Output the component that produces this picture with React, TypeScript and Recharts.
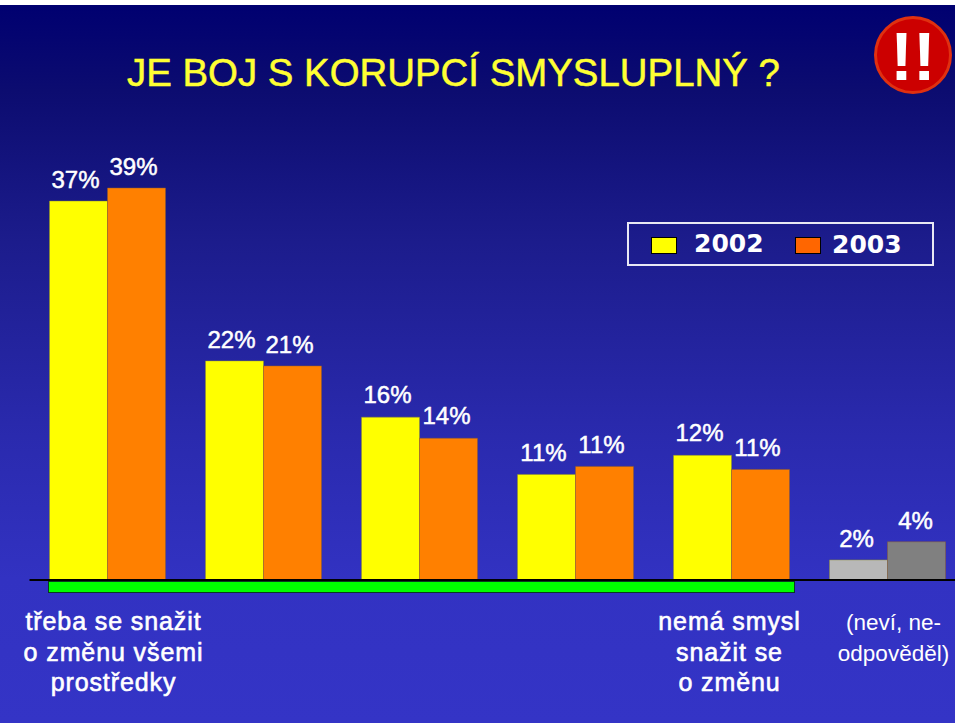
import { BarChart, Bar, XAxis, YAxis, Cell, LabelList, Legend } from 'recharts'

const categories = ['třeba se snažit|o změnu všemi|prostředky', 'b', 'c', 'd', 'nemá smysl|snažit se|o změnu', '(neví, ne-|odpověděl)']
const values2002 = [37.7, 21.8, 16.2, 10.5, 12.4, 2.0]
const values2003 = [39, 21.3, 14.1, 11.3, 11.0, 3.8]
const labels2002 = ['37%', '22%', '16%', '11%', '12%', '2%']
const labels2003 = ['39%', '21%', '14%', '11%', '11%', '4%']

// hand nudges for the data labels, the source slide has them placed by hand
const nudge2002 = [[-3, 0], [-3, 0], [-3, -1], [-3, 0], [-3, -1], [-2, 0]]
const nudge2003 = [[-3, 0], [-3, 0], [-2, -1], [-3, 0], [-3, 0], [-1, 0]]
const GREY_2002 = '#b8b8b8'
const GREY_2003 = '#808080'

const chartData = categories.map((name, i) => ({ name, y2002: values2002[i], y2003: values2003[i] }))
const FONT = '"Liberation Sans", Arial, sans-serif'

const makeLabel = (labels: string[], nudges: number[][]) => (props: any) => {
  const { x, y, width, index } = props
  const [dx, dy] = nudges[index]
  return (
    <text x={x + width / 2 + dx} y={y - 13 + dy} fill="#fff" fontFamily={FONT} fontSize={24} fontWeight={400} stroke="#fff" strokeWidth={0.5} textAnchor="middle">
      {labels[index]}
    </text>
  )
}

const CategoryTick = ({ x, y, payload, index }: any) => {
  if (index > 0 && index < 4) return null
  const lines = payload.value.split('|')
  const bold = index < 5
  const shift = index === 0 ? 6 : index === 4 ? -2 : 6
  return (
    <text x={x + shift} y={y + 42} fill="#fff" fontFamily={FONT} fontSize={bold ? 25 : 22.5} fontWeight={400} stroke="#fff" strokeWidth={bold ? 0.6 : 0} textAnchor="middle" letterSpacing={bold ? 0.9 : 0}>
      {lines.map((l: string, i: number) => (
        <tspan key={i} x={x + shift} dy={i === 0 ? 0 : 30.5}>{l}</tspan>
      ))}
    </text>
  )
}

const LegendBox = () => (
  <div style={{ width: 303, height: 40, border: '2px solid #e8e8f4', position: 'relative', color: '#fff', fontFamily: '"DejaVu Sans", sans-serif', fontWeight: 700, fontSize: 25 }}>
    <span style={{ position: 'absolute', left: 22, top: 13, width: 24, height: 15, background: '#ffff00', border: '1px solid #000' }} />
    <span style={{ position: 'absolute', left: 65, top: 5 }}>2002</span>
    <span style={{ position: 'absolute', left: 166, top: 13, width: 24, height: 15, background: '#ff6600', border: '1px solid #000' }} />
    <span style={{ position: 'absolute', left: 203, top: 6 }}>2003</span>
  </div>
)

export default function App() {
  return (
    <div style={{ position: 'absolute', left: 0, top: 0, width: 960, height: 723, background: '#fff', overflow: 'hidden' }}>
      <div style={{ position: 'absolute', left: 0, top: 5, width: 955, height: 718, overflow: 'hidden', background: 'linear-gradient(180deg, #000070 0%, #0c0c70 12%, #1c1c8c 33%, #2a2aae 60%, #3232c2 80%, #3434c6 100%)' }}>
        <div style={{ position: 'absolute', left: 48, top: 576, width: 745, height: 10, background: '#00ff00', border: '1px solid #0a3a20' }} />
        <div style={{ position: 'absolute', left: 0, top: -5 }}>
          <BarChart width={966} height={723} data={chartData} margin={{ top: 188, right: 0.5, bottom: 0, left: 29.5 }} barGap={0} barSize={58}>
            <YAxis hide domain={[0, 39]} />
            {/* the legend reserves 44px below the axis, so 143 - 44 */}
            <XAxis dataKey="name" height={99} interval={0} tickLine={false} axisLine={{ stroke: '#000', strokeWidth: 2 }} tick={<CategoryTick />} />
            <Legend content={<LegendBox />} wrapperStyle={{ position: 'absolute', left: 627, top: 222, width: 307, height: 44 }} />
            <Bar dataKey="y2002" fill="#ffff00" stroke="#8a8a30" strokeWidth={0.5} isAnimationActive={false}>
              {chartData.map((_, i) => <Cell key={i} fill={i === 5 ? GREY_2002 : '#ffff00'} />)}
              <LabelList dataKey="y2002" content={makeLabel(labels2002, nudge2002)} />
            </Bar>
            <Bar dataKey="y2003" fill="#ff8000" stroke="#8a5a30" strokeWidth={0.5} isAnimationActive={false}>
              {chartData.map((_, i) => <Cell key={i} fill={i === 5 ? GREY_2003 : '#ff8000'} />)}
              <LabelList dataKey="y2003" content={makeLabel(labels2003, nudge2003)} />
            </Bar>
          </BarChart>
        </div>
        <div style={{ position: 'absolute', left: 127, top: 46, color: '#ffff33', fontFamily: FONT, fontSize: 38.4, whiteSpace: 'nowrap', WebkitTextStroke: '0.5px #ffff33' }}>JE BOJ S KORUPCÍ SMYSLUPLNÝ ?</div>
        <svg style={{ position: 'absolute', left: 870, top: 5 }} width={85} height={90}>
          <circle cx={43} cy={45} r={37.5} fill="#cc0000" stroke="#e03010" strokeWidth={3} />
          <text x={43} y={70} fill="#fff" fontFamily={FONT} fontSize={68} fontWeight={700} textAnchor="middle">!!</text>
        </svg>
      </div>
    </div>
  )
}
